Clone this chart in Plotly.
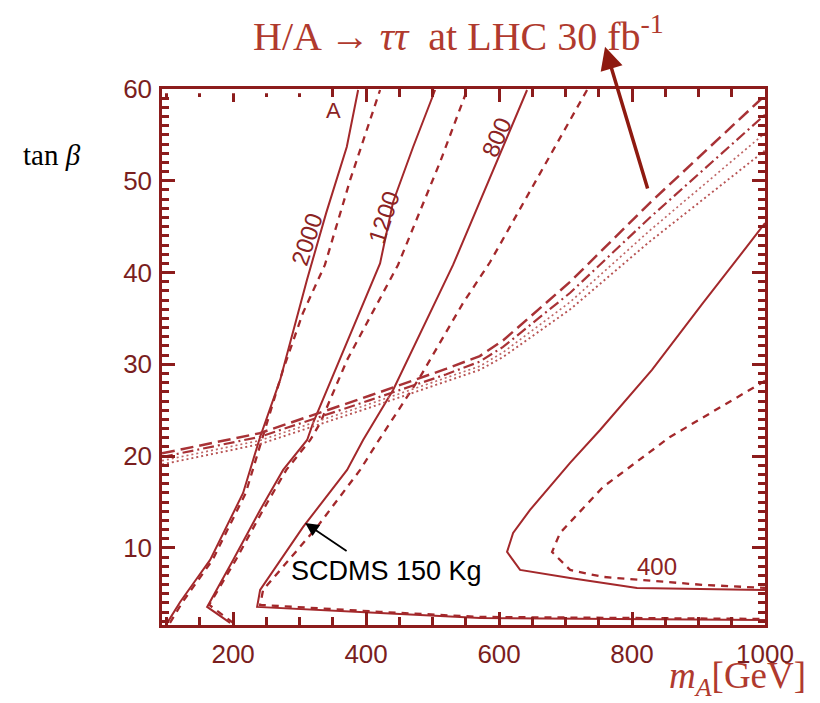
import plotly.graph_objects as go

# ---------------- data ----------------
# Iso-contours (solid = one case, dashed = other case), labelled by value
c2000_solid_x = [100.8, 120.3, 140.3, 165.4, 215, 240.6, 270.7, 311, 340, 371, 388]
c2000_solid_y = [1.83, 4.11, 6.15, 8.69, 15.99, 22.09, 28.3, 39.2, 46.5, 53.7, 59.89]
c2000_dash_x = [105, 124, 144, 169, 219, 245, 275, 305, 338, 376, 421]
c2000_dash_y = [1.83, 4.11, 6.15, 8.69, 15.99, 22.09, 29.39, 35.6, 40.83, 50.09, 59.89]

c1200_solid_x = [195.5, 160.9, 200, 240.6, 275.2, 311.3, 320.3, 421, 440.6, 470.7, 503.8]
c1200_solid_y = [1.83, 3.57, 8.69, 14.14, 18.5, 21.76, 23.62, 41.0, 47.69, 53.68, 59.89]
c1200_dash_x = [200, 164, 204, 245, 280, 316, 331, 371.4, 448, 511.3, 551.9]
c1200_dash_y = [1.83, 3.8, 8.69, 14.14, 18.5, 21.76, 23.62, 30.48, 40.83, 52.05, 59.89]

c800_solid_x = [642.1, 530.8, 440.6, 395.5, 371.4, 305.3, 240.6, 236.1, 421, 571.4, 1000]
c800_solid_y = [59.89, 40.83, 27.21, 21.76, 18.5, 12.29, 5.42, 3.57, 2.92, 2.37, 2.15]
c800_dash_x = [732.3, 586.5, 545.9, 481.2, 416.5, 391, 326.3, 245.1, 240.6, 421, 571.4, 1000]
c800_dash_y = [59.89, 41.15, 36.69, 28.63, 21.44, 18.5, 12.29, 5.42, 3.79, 3.03, 2.48, 2.26]

c400_solid_x = [1000, 980.5, 906.8, 830, 751.9, 706.8, 646.6, 621.1, 612, 631.6, 706.8, 807.5, 1000]
c400_solid_y = [45.4, 43.55, 36.69, 29.39, 22.85, 19.26, 14.14, 11.63, 9.56, 7.6, 6.73, 5.64, 5.42]
c400_dash_x = [1000, 857.1, 756.4, 691.7, 679.7, 706.8, 756.4, 906.8, 1000]
c400_dash_y = [28.2, 22.09, 16.64, 11.63, 9.56, 7.6, 6.84, 5.97, 5.64]

# H/A -> tau tau LHC 30 fb^-1 reach curves
band_x = [93, 240, 406, 520, 571, 606, 707, 827, 1000]
band1_y = [20.3, 22.5, 26.6, 29.5, 30.9, 32.6, 39.0, 47.6, 59.3]
band2_y = [19.9, 22.1, 26.1, 28.9, 30.3, 31.9, 37.8, 46.0, 57.2]
band3_y = [19.5, 21.7, 25.7, 28.5, 29.8, 31.3, 36.8, 44.6, 55.2]
band4_y = [19.1, 21.3, 25.3, 28.1, 29.4, 30.8, 36.0, 43.4, 53.3]

contour_labels = ["2000", "1200", "800", "400", "A"]
label_x = [311.3, 427, 595.5, 837.6, 350.4]
label_y = [43.55, 45.95, 54.77, 7.93, 57.71]
label_angle = [-72, -72, -67, 0, 0]

X_RANGE = [93, 1000]
Y_RANGE = [1.6, 60]

# ---------------- styles ----------------
CURVE = "#a3282b"
FRAME = "#8c1c1c"
TICKC = "#7a1e1e"
TITLEC = "#b03a2e"

fig = go.Figure()

def add_line(x, y, dash="solid", width=2, color=CURVE):
    fig.add_trace(go.Scatter(x=x, y=y, mode="lines",
                             line=dict(color=color, width=width, dash=dash),
                             hoverinfo="skip", showlegend=False))

# contours
add_line(c2000_solid_x, c2000_solid_y)
add_line(c2000_dash_x, c2000_dash_y, dash="7px,6px", width=2.3)
add_line(c1200_solid_x, c1200_solid_y)
add_line(c1200_dash_x, c1200_dash_y, dash="7px,6px", width=2.3)
add_line(c800_solid_x, c800_solid_y)
add_line(c800_dash_x, c800_dash_y, dash="7px,6px", width=2.3)
add_line(c400_solid_x, c400_solid_y)
add_line(c400_dash_x, c400_dash_y, dash="7px,6px", width=2.3)

# tau tau band
add_line(band_x, band1_y, dash="13px,6px", width=2.5, color="#a83236")
add_line(band_x, band2_y, dash="11px,4px,2px,4px", width=2.2, color="#a83236")
add_line(band_x, band3_y, dash="2px,3px", width=1.7, color="#c06868")
add_line(band_x, band4_y, dash="2px,3px", width=1.9, color="#b85454")

# invisible helper trace so the minor-tick overlay axis is drawn
fig.add_trace(go.Scatter(x=[X_RANGE[0]], y=[Y_RANGE[0]], mode="markers",
                         marker=dict(opacity=0), yaxis="y2",
                         hoverinfo="skip", showlegend=False))

annotations = []
for t, x, y, a in zip(contour_labels, label_x, label_y, label_angle):
    annotations.append(dict(x=x, y=y, xref="x", yref="y", text=t, showarrow=False,
                            textangle=a, xanchor="center", yanchor="middle",
                            font=dict(family="Liberation Sans", size=24 if t != "A" else 22,
                                      color="#8b2323")))

# title
annotations.append(dict(x=0.4925, y=1.104, xref="paper", yref="paper",
                        xanchor="center", yanchor="middle",
                        text="H/A \u2192 <i>\u03c4\u03c4</i>  at LHC 30 fb<sup>-1</sup>",
                        showarrow=False,
                        font=dict(family="Liberation Serif", size=40, color=TITLEC)))
# axis titles
annotations.append(dict(x=-0.1824, y=0.877, xref="paper", yref="paper",
                        xanchor="center", yanchor="middle",
                        text="tan <i>\u03b2</i>", showarrow=False,
                        font=dict(family="Liberation Serif", size=29, color="black")))
annotations.append(dict(x=1.0713, y=-0.099, xref="paper", yref="paper",
                        xanchor="right", yanchor="middle",
                        text="<i>m</i><sub><i>A</i></sub>[GeV]", showarrow=False,
                        font=dict(family="Liberation Serif", size=37, color=TITLEC)))
# SCDMS annotation
annotations.append(dict(x=0.2106, y=0.1007, xref="paper", yref="paper",
                        xanchor="left", yanchor="middle",
                        text="SCDMS 150 Kg", showarrow=False,
                        font=dict(family="Liberation Sans", size=27, color="black")))
annotations.append(dict(x=308.3, y=12.72, xref="x", yref="y", ax=372.9, ay=9.56,
                        axref="x", ayref="y", text="", showarrow=True,
                        arrowhead=2, arrowsize=1.5, arrowwidth=1.8, arrowcolor="black"))
# big arrow
annotations.append(dict(x=759.4, y=64.6, xref="x", yref="y", ax=824.1, ay=49.0,
                        axref="x", ayref="y", text="", showarrow=True,
                        arrowhead=2, arrowsize=1.3, arrowwidth=3.5, arrowcolor="#8e1a10"))

axis_common = dict(showline=True, linecolor=FRAME, linewidth=2.5, mirror="ticks",
                   ticks="inside", tickcolor=FRAME, tickwidth=2.5, ticklen=13,
                   showgrid=False, zeroline=False,
                   tickfont=dict(family="Liberation Sans", size=26, color=TICKC))

fig.update_layout(
    width=820, height=703,
    margin=dict(l=162, r=55, t=89, b=78),
    plot_bgcolor="white", paper_bgcolor="white",
    showlegend=False,
    xaxis=dict(range=X_RANGE, tick0=0, dtick=200, ticklabelstandoff=4,
               minor=dict(tickmode="linear", tick0=0, dtick=50, ticks="inside",
                          ticklen=8, tickwidth=2.5, tickcolor=FRAME),
               **axis_common),
    yaxis=dict(range=Y_RANGE, tick0=0, dtick=10, ticklabelstandoff=2,
               **axis_common),
    yaxis2=dict(range=Y_RANGE, overlaying="y", side="left", anchor="x",
                tickmode="linear", tick0=0, dtick=1, ticks="inside", ticklen=7,
                tickwidth=2.5, tickcolor=FRAME, showticklabels=False,
                showline=True, linecolor=FRAME, linewidth=2.5, mirror="ticks",
                showgrid=False, zeroline=False),
    annotations=annotations,
    shapes=[dict(type="rect", xref="x", yref="y", x0=94.8, x1=324.8, y0=59.55, y1=61,
                 fillcolor="white", line=dict(width=0), layer="above")],
)

fig.write_html("out.html")
